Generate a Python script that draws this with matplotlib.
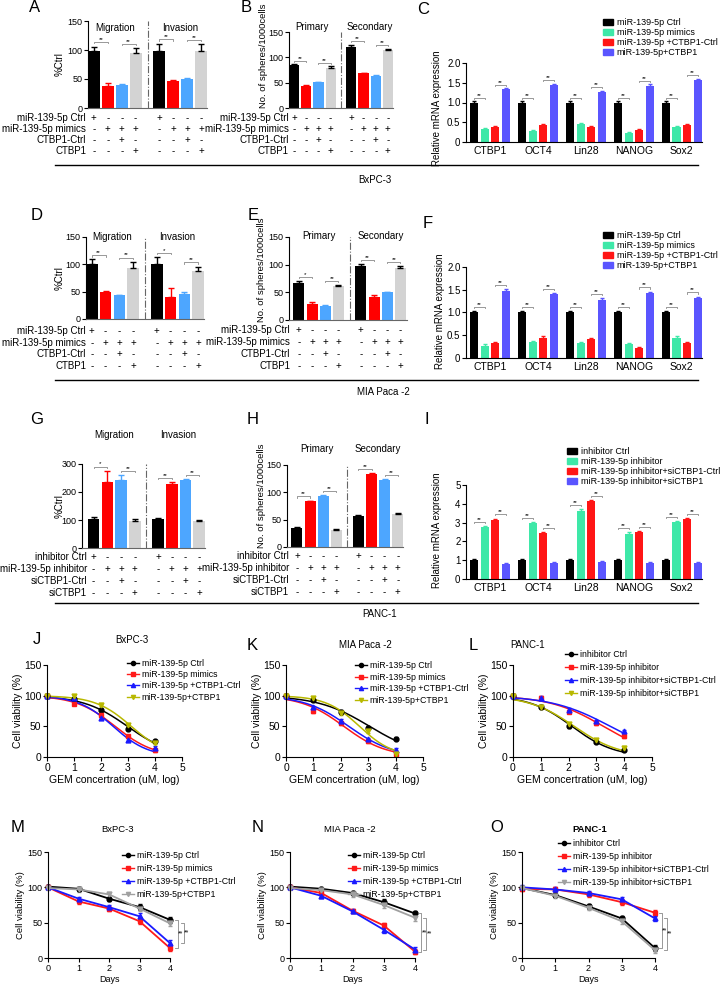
import matplotlib
matplotlib.use("Agg")

import matplotlib.pyplot as plt
import numpy as np
from matplotlib.transforms import blended_transform_factory
from matplotlib.patches import Patch
from matplotlib.lines import Line2D

plt.rcParams['font.family'] = ['Liberation Sans', 'DejaVu Sans']

W, H = 728, 992

# ---- bar charts A/B/D/E/G/H
A_migration = [99, 38, 39, 95]
A_migration_err = [7, 5, 2, 8]
A_invasion = [99, 47, 50, 99]
A_invasion_err = [12, 1, 2, 11]
B_primary = [84, 44, 51, 79]
B_primary_err = [2, 2, 1, 3]
B_secondary = [120, 69, 64, 114]
B_secondary_err = [5, 1, 1, 3]
D_migration = [100, 50, 43, 94]
D_migration_err = [9, 2, 1, 11]
D_invasion = [100, 41, 46, 88]
D_invasion_err = [14, 16, 4, 8]
E_primary = [67, 29, 26, 61]
E_primary_err = [3, 4, 1, 2]
E_secondary = [98, 42, 50, 94]
E_secondary_err = [3, 4, 1, 3]
G_migration = [102, 235, 244, 96]
G_migration_err = [10, 41, 16, 7]
G_invasion = [102, 228, 244, 96]
G_invasion_err = [6, 7, 2, 4]
H_primary = [35, 84, 94, 31]
H_primary_err = [2, 1, 1, 2]
H_secondary = [57, 133, 122, 61]
H_secondary_err = [1, 2, 3, 2]

mimic_rows = ["miR-139-5p Ctrl", "miR-139-5p mimics", "CTBP1-Ctrl", "CTBP1"]
inhib_rows = ["inhibitor Ctrl", "miR-139-5p inhibitor", "siCTBP1-Ctrl", "siCTBP1"]
signs = [["+", "-", "-", "-"], ["-", "+", "+", "+"], ["-", "-", "+", "-"], ["-", "-", "-", "+"]]

# ---- mRNA expression C/F/I
genes = ["CTBP1", "OCT4", "Lin28", "NANOG", "Sox2"]
C_ctrl = [1, 1, 1, 1, 1]
C_mimics = [0.32, 0.28, 0.45, 0.22, 0.37]
C_ctbp1_ctrl = [0.37, 0.42, 0.38, 0.30, 0.42]
C_ctbp1 = [1.33, 1.44, 1.27, 1.43, 1.57]
F_ctrl = [1, 1, 1, 1, 1]
F_mimics = [0.27, 0.35, 0.32, 0.30, 0.45]
F_ctbp1_ctrl = [0.32, 0.45, 0.42, 0.22, 0.33]
F_ctbp1 = [1.48, 1.40, 1.28, 1.43, 1.32]
I_ctrl = [1, 1, 1, 1, 1]
I_inhib = [2.75, 2.96, 3.63, 2.40, 3.02]
I_inhib_sictrl = [3.14, 2.43, 4.13, 2.49, 3.17]
I_inhib_si = [0.79, 0.85, 0.90, 0.83, 0.85]

mimic_legend = ["miR-139-5p Ctrl", "miR-139-5p mimics", "miR-139-5p +CTBP1-Ctrl", "miR-139-5p+CTBP1"]
inhib_legend = ["inhibitor Ctrl", "miR-139-5p inhibitor", "miR-139-5p inhibitor+siCTBP1-Ctrl",
                "miR-139-5p inhibitor+siCTBP1"]

# ---- GEM dose response J/K/L
dose = [0, 1, 2, 3, 4]
J_ctrl = [100, 94, 77, 46, 26]
J_mimics = [100, 87, 68, 34, 11]
J_ctbp1_ctrl = [100, 96, 64, 28, 15]
J_ctbp1 = [100, 99, 85, 52, 23]
K_ctrl = [100, 93, 74, 48, 30]
K_mimics = [100, 75, 55, 26, 5]
K_ctbp1_ctrl = [100, 81, 59, 29, 12]
K_ctbp1 = [100, 96, 71, 42, 5]
L_ctrl = [100, 82, 50, 25, 12]
L_inhib = [100, 97, 74, 55, 34]
L_inhib_sictrl = [100, 97, 77, 58, 42]
L_inhib_si = [100, 81, 53, 27, 15]

# ---- viability over days M/N/O
days = [0, 1, 2, 3, 4]
M_ctrl = [101, 98, 84, 72, 54]
M_mimics = [100, 80, 70, 52, 14]
M_ctbp1_ctrl = [100, 84, 72, 59, 21]
M_ctbp1 = [99, 97, 90, 70, 49]
N_ctrl = [101, 98, 92, 79, 63]
N_mimics = [100, 92, 67, 46, 9]
N_ctbp1_ctrl = [100, 88, 66, 40, 12]
N_ctbp1 = [99, 96, 90, 75, 57]
O_ctrl = [99, 89, 73, 56, 14]
O_inhib = [98, 97, 90, 79, 64]
O_inhib_sictrl = [100, 97, 92, 83, 56]
O_inhib_si = [99, 88, 71, 52, 11]
day_err = [3, 3, 3, 4, 4]

BAR_COLORS = ['#000000', '#ff0000', '#4da6ff', '#d3d3d3']
EXPR_COLORS = ['#000000', '#3ee8a8', '#ff1515', '#5a55ff']
LINE_COLORS = ['#000000', '#ff1a1a', '#1a1aff', '#b8b800']
DAY_COLORS = ['#000000', '#ff1a1a', '#1a1aff', '#a0a0a0']
MARKERS = ['o', 's', '^', 'v']
XPOS = [0, 1, 2, 3, 4.7, 5.7, 6.7, 7.7]

fig = plt.figure(figsize=(W / 100, H / 100), dpi=100)


def add_ax(l, t, r, b):
    return fig.add_axes([l / W, 1 - b / H, (r - l) / W, (b - t) / H])


def ftext(x, y, s, **kw):
    kw.setdefault('ha', 'center')
    kw.setdefault('va', 'center')
    return fig.text(x / W, 1 - y / H, s, **kw)


def hline(x0, x1, y):
    fig.add_artist(Line2D([x0 / W, x1 / W], [1 - y / H, 1 - y / H], color='black', lw=1))


def style_ax(ax, fs=7):
    for s in ['top', 'right']:
        ax.spines[s].set_visible(False)
    ax.tick_params(labelsize=fs, length=3, width=0.8, pad=1)


def bar_panel(box, xlim, g1, e1, g2, e2, ytop, ystep, titles, title_y, sig, rows, row_ys, label_x):
    ax = add_ax(*box)
    vals = g1 + g2
    errs = e1 + e2
    for i, (x, v, e) in enumerate(zip(XPOS, vals, errs)):
        c = BAR_COLORS[i % 4]
        ax.bar(x, v, width=0.84, color=c)
        ax.errorbar(x, v, yerr=[[0], [e]], fmt='none', ecolor='black' if i % 4 == 3 else c,
                    capsize=2, elinewidth=1, capthick=1)
    ax.axvline(3.85, color='#666666', lw=0.8, ls='-.')
    ax.set_xlim(xlim)
    ax.set_ylim(0, ytop)
    ax.set_yticks(np.arange(0, ytop + 1, ystep))
    ax.set_xticks([])
    style_ax(ax, 6.5)
    ax.spines['bottom'].set_color('#666666')
    tr = blended_transform_factory(ax.transData, fig.transFigure)
    ax.text(1.5, 1 - title_y / H, titles[0], transform=tr, ha='center', va='center', fontsize=7)
    ax.text(6.2, 1 - title_y / H, titles[1], transform=tr, ha='center', va='center', fontsize=7)
    # significance brackets
    for i, j, s in sig:
        h = max(vals[i] + errs[i], vals[j] + errs[j]) + 0.05 * ytop
        d = 0.015 * ytop
        ax.plot([XPOS[i], XPOS[i], XPOS[j], XPOS[j]], [h - d, h, h, h - d], color='#888888', lw=0.6,
                clip_on=False)
        ax.text((XPOS[i] + XPOS[j]) / 2, h, s, ha='center', va='bottom', fontsize=4.5, clip_on=False)
    # treatment table
    for r, y in enumerate(row_ys):
        ftext(label_x, y, rows[r], ha='right', fontsize=7)
        for k, x in enumerate(XPOS):
            ax.text(x, 1 - y / H, signs[r][k % 4], transform=tr, ha='center', va='center', fontsize=7)
    return ax


def expr_panel(box, series, ytop, yticks, yticklabels, legend_labels, legend_xy):
    ax = add_ax(*box)
    offs = [-0.33, -0.11, 0.11, 0.33]
    gx = np.arange(len(genes))
    for k, vals in enumerate(series):
        ax.bar(gx + offs[k], vals, width=0.17, color=EXPR_COLORS[k])
        ax.errorbar(gx + offs[k], vals, yerr=[np.zeros(len(vals)), np.full(len(vals), 0.015 * ytop)],
                    fmt='none', ecolor=EXPR_COLORS[k], capsize=1.5, elinewidth=0.8)
    for g in gx:
        for a, b in [(0, 1), (2, 3)]:
            h = max(series[a][g], series[b][g]) + 0.06 * ytop
            d = 0.012 * ytop
            ax.plot([g + offs[a], g + offs[a], g + offs[b], g + offs[b]], [h - d, h, h, h - d],
                    color='#888888', lw=0.6, clip_on=False)
            ax.text(g + (offs[a] + offs[b]) / 2, h, "**", ha='center', va='bottom', fontsize=4.5)
    ax.set_xlim(-0.5, 4.42)
    ax.set_ylim(0, ytop)
    ax.set_yticks(yticks)
    ax.set_yticklabels(yticklabels)
    ax.set_xticks(gx)
    ax.set_xticklabels(genes)
    style_ax(ax)
    ax.tick_params(axis='x', length=0, pad=3, labelsize=7.5)
    handles = [Patch(color=c) for c in EXPR_COLORS]
    fig.legend(handles, legend_labels, loc='upper left', bbox_to_anchor=(legend_xy[0] / W, 1 - legend_xy[1] / H),
               frameon=False, fontsize=6.5, handlelength=1.1, handleheight=0.7, handletextpad=0.4,
               labelspacing=0.12, borderpad=0, borderaxespad=0)
    return ax


def fit_logistic(x, y):
    x = np.asarray(x, float)
    y = np.asarray(y, float)
    cs = np.linspace(0.5, 5, 451)
    hs = np.linspace(0.2, 3, 281)
    C, Hh = np.meshgrid(cs, hs)
    pred = 100 / (1 + 10 ** ((x[None, None, :] - C[..., None]) * Hh[..., None]))
    sse = ((pred - y) ** 2).sum(-1)
    k = np.unravel_index(sse.argmin(), sse.shape)
    return C[k], Hh[k]


def legend_for(ax, labels, colors, xy, spacing, fs=6.3):
    handles = [Line2D([], [], color=c, marker=m, ms=3, lw=1) for c, m in zip(colors, MARKERS)]
    fig.legend(handles, labels, loc='upper left', bbox_to_anchor=(xy[0] / W, 1 - xy[1] / H), frameon=False,
               fontsize=fs, handlelength=1.4, handletextpad=0.3, labelspacing=spacing, borderpad=0,
               borderaxespad=0)


def dose_panel(box, series, labels, legend_xy, spacing):
    ax = add_ax(*box)
    xs = np.linspace(0, 4, 200)
    for k, vals in enumerate(series):
        c, h = fit_logistic(dose, vals)
        ax.plot(xs, 100 / (1 + 10 ** ((xs - c) * h)), color=LINE_COLORS[k], lw=1.1, clip_on=False)
        ax.errorbar(dose, vals, yerr=2.5, fmt=MARKERS[k], color=LINE_COLORS[k], ms=3.5, capsize=1.5,
                    elinewidth=0.8, clip_on=False)
    ax.set_xlim(0, 5)
    ax.set_ylim(0, 150)
    ax.set_yticks([0, 50, 100, 150])
    ax.set_xticks([0, 1, 2, 3, 4, 5])
    style_ax(ax)
    ax.tick_params(labelsize=7.5)
    ax.set_xlabel("GEM concertration (uM, log)", fontsize=7.5, labelpad=2)
    ax.set_ylabel("Cell viability (%)", fontsize=7.5, labelpad=1)
    legend_for(ax, labels, LINE_COLORS, legend_xy, spacing)
    return ax


def day_panel(box, series, labels, legend_xy, spacing, brackets):
    ax = add_ax(*box)
    for k, vals in enumerate(series):
        ax.errorbar(days, vals, yerr=day_err, fmt='-' + MARKERS[k], color=DAY_COLORS[k], ms=3.5, lw=1.3,
                    capsize=1.5, elinewidth=0.8, clip_on=False)
    for x, a, b in brackets:
        y0, y1 = series[a][-1], series[b][-1]
        ax.plot([x - 0.08, x, x, x - 0.08], [y0, y0, y1, y1], color='#888888', lw=0.6, clip_on=False)
        ax.text(x + 0.02, (y0 + y1) / 2, "**", ha='left', va='center', fontsize=5, clip_on=False)
    ax.set_xlim(0, 4)
    ax.set_ylim(0, 150)
    ax.set_yticks([0, 50, 100, 150])
    ax.set_xticks([0, 1, 2, 3, 4])
    style_ax(ax)
    ax.tick_params(labelsize=6.5)
    ax.set_xlabel("Days", fontsize=6.5, labelpad=2)
    ax.set_ylabel("Cell viability (%)", fontsize=6.8, labelpad=2)
    legend_for(ax, labels, DAY_COLORS, legend_xy, spacing)
    return ax


# ---------------- row 1: BxPC-3
bar_panel((88, 21, 207, 108), (-0.42, 8.12), A_migration, A_migration_err, A_invasion, A_invasion_err,
          150, 50, ("Migration", "Invasion"), 28, [(0, 1, "**"), (2, 3, "**"), (4, 5, "**"), (6, 7, "**")],
          mimic_rows, [118, 129, 140, 151], 86)
ftext(60, 64, "%Ctrl", rotation=90, fontsize=7)
bar_panel((289, 32, 393, 108), (-0.42, 8.12), B_primary, B_primary_err, B_secondary, B_secondary_err,
          150, 50, ("Primary", "Secondary"), 27, [(0, 1, "**"), (2, 3, "**"), (4, 5, "**"), (6, 7, "**")],
          mimic_rows, [118, 129, 140, 151], 289)
ftext(264, 108, "No. of spheres/1000cells", rotation=90, va='bottom', fontsize=6.8)
expr_panel((466, 63, 702, 142), [C_ctrl, C_mimics, C_ctbp1_ctrl, C_ctbp1], 2.0, [0, 0.5, 1.0, 1.5, 2.0],
           ["0", "0.5", "1.0", "1.5", "2.0"], mimic_legend, (603, 18))
ftext(437, 108, "Relative mRNA expression", rotation=90, fontsize=7)
hline(55, 698, 165)
ftext(375, 180, "BxPC-3", fontsize=7)

# ---------------- row 2: MIA Paca -2
bar_panel((86, 237, 204, 319), (-0.42, 8.12), D_migration, D_migration_err, D_invasion, D_invasion_err,
          150, 50, ("Migration", "Invasion"), 237, [(0, 1, "**"), (2, 3, "**"), (4, 5, "*"), (6, 7, "**")],
          mimic_rows, [331, 343, 354, 366], 86)
ftext(60, 278, "%Ctrl", rotation=90, fontsize=7)
bar_panel((289, 237, 407, 320), (-0.75, 8.2), E_primary, E_primary_err, E_secondary, E_secondary_err,
          150, 50, ("Primary", "Secondary"), 236, [(0, 1, "*"), (2, 3, "**"), (4, 5, "**"), (6, 7, "**")],
          mimic_rows, [330, 342, 354, 366], 290)
ftext(262, 322, "No. of spheres/1000cells", rotation=90, va='bottom', fontsize=6.8)
expr_panel((466, 267, 702, 358), [F_ctrl, F_mimics, F_ctbp1_ctrl, F_ctbp1], 2.0, [0, 0.5, 1.0, 1.5, 2.0],
           ["0", "0.5", "1.0", "1.5", "2.0"], mimic_legend, (603, 231))
ftext(440, 311, "Relative mRNA expression", rotation=90, fontsize=7)
hline(55, 698, 380)
ftext(383, 392, "MIA Paca -2", fontsize=7)

# ---------------- row 3: PANC-1
bar_panel((82, 464, 205, 548), (-0.85, 8.12), G_migration, G_migration_err, G_invasion, G_invasion_err,
          300, 100, ("Migration", "Invasion"), 435, [(0, 1, "*"), (2, 3, "**"), (4, 5, "**"), (6, 7, "**")],
          inhib_rows, [557, 569, 581, 593], 87)
ftext(60, 506, "%Ctrl", rotation=90, fontsize=7)
bar_panel((287, 465, 403, 547), (-0.76, 8.1), H_primary, H_primary_err, H_secondary, H_secondary_err,
          150, 50, ("Primary", "Secondary"), 449, [(0, 1, "**"), (2, 3, "**"), (4, 5, "**"), (6, 7, "**")],
          inhib_rows, [556, 568, 580, 592], 289)
ftext(262, 548, "No. of spheres/1000cells", rotation=90, va='bottom', fontsize=6.8)
expr_panel((466, 485, 702, 579), [I_ctrl, I_inhib, I_inhib_sictrl, I_inhib_si], 5, [0, 1, 2, 3, 4, 5],
           ["0", "1", "2", "3", "4", "5"], inhib_legend, (567, 447))
ftext(437, 530, "Relative mRNA expression", rotation=90, fontsize=7)
hline(55, 698, 603)
ftext(380, 614, "PANC-1", fontsize=7)

# ---------------- row 4: GEM dose response
dose_panel((47, 665, 182, 757), [J_ctrl, J_mimics, J_ctbp1_ctrl, J_ctbp1], mimic_legend, (127, 659), 0.25)
dose_panel((286, 665, 423, 757), [K_ctrl, K_mimics, K_ctbp1_ctrl, K_ctbp1], mimic_legend, (355, 661), 0.3)
dose_panel((513, 665, 652, 757), [L_ctrl, L_inhib, L_inhib_sictrl, L_inhib_si], inhib_legend, (565, 650), 0.45)
ftext(132, 640, "BxPC-3", fontsize=7)
ftext(365, 645, "MIA Paca -2", fontsize=7)
ftext(528, 645, "PANC-1", fontsize=7)

# ---------------- row 5: viability over days
day_panel((48, 852, 170, 958), [M_ctrl, M_mimics, M_ctbp1_ctrl, M_ctbp1], mimic_legend, (122, 851), 0.45,
          [(4.25, 0, 1), (4.45, 3, 2)])
day_panel((290, 852, 415, 958), [N_ctrl, N_mimics, N_ctbp1_ctrl, N_ctbp1], mimic_legend, (348, 851), 0.45,
          [(4.2, 0, 1), (4.35, 3, 2)])
day_panel((522, 852, 655, 958), [O_ctrl, O_inhib, O_inhib_sictrl, O_inhib_si], inhib_legend, (558, 839), 0.45,
          [(4.2, 1, 0), (4.35, 2, 3)])
ftext(118, 829, "BxPC-3", fontsize=6.8)
ftext(350, 829, "MIA Paca -2", fontsize=6.8)
ftext(590, 830, "PANC-1", fontsize=6.8, fontweight='bold')

# ---------------- panel letters
letters = {"A": (35, 8), "B": (246, 8), "C": (423, 10), "D": (37, 215), "E": (253, 215), "F": (428, 223),
           "G": (37, 420), "H": (253, 420), "I": (427, 420), "J": (37, 640), "K": (252, 645),
           "L": (473, 645), "M": (18, 828), "N": (258, 828), "O": (497, 828)}
for s, (x, y) in letters.items():
    ftext(x, y, s, fontsize=12)

fig.savefig("out.png", dpi=100)
